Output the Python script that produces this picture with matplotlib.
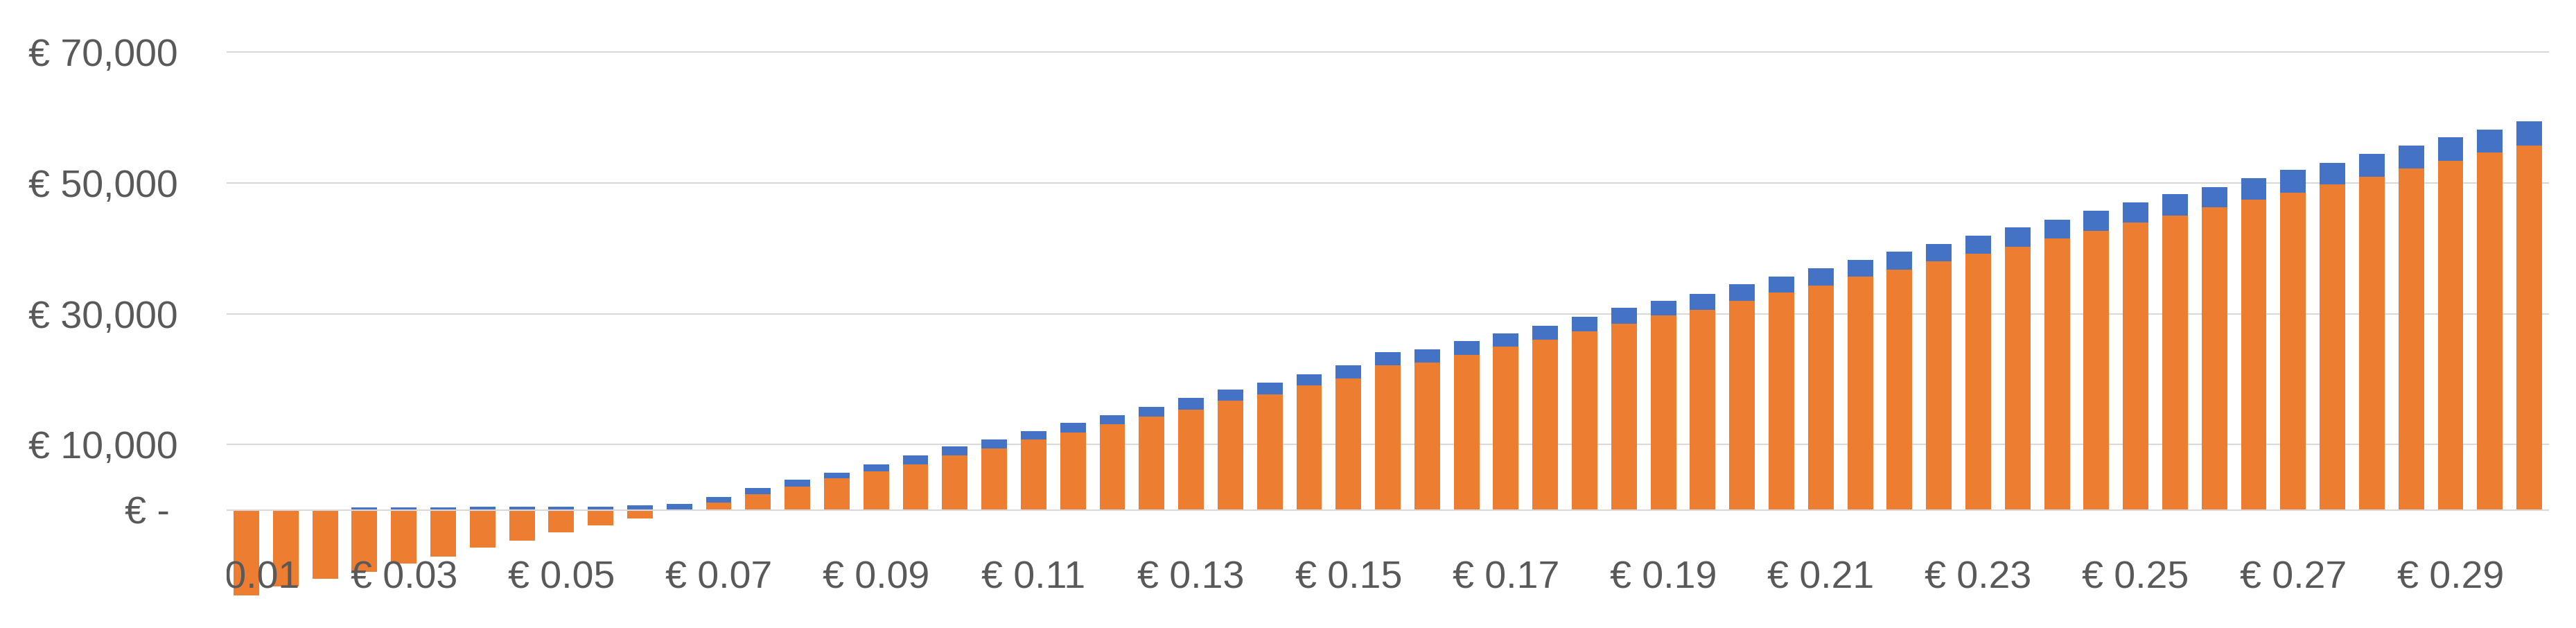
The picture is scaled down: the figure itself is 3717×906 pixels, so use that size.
import numpy as np
import matplotlib
matplotlib.use("Agg")
import matplotlib.pyplot as plt

# price per unit (categories on the x axis)
prices = [0.010, 0.015, 0.020, 0.025, 0.030, 0.035, 0.040, 0.045, 0.050, 0.055,
          0.060, 0.065, 0.070, 0.075, 0.080, 0.085, 0.090, 0.095, 0.100, 0.105,
          0.110, 0.115, 0.120, 0.125, 0.130, 0.135, 0.140, 0.145, 0.150, 0.155,
          0.160, 0.165, 0.170, 0.175, 0.180, 0.185, 0.190, 0.195, 0.200, 0.205,
          0.210, 0.215, 0.220, 0.225, 0.230, 0.235, 0.240, 0.245, 0.250, 0.255,
          0.260, 0.265, 0.270, 0.275, 0.280, 0.285, 0.290, 0.295, 0.300]

# orange series (can go negative)
orange_vals = [-13000, -11700, -10560, -9470, -8160, -7070, -5760, -4700, -3420, -2330,
               -1240, -40, 1170, 2440, 3570, 4900, 5908, 7010, 8357, 9459,
               10745, 11846, 13132, 14234, 15336, 16682, 17723, 19070, 20111, 22131,
               22559, 23661, 24947, 26049, 27334, 28436, 29722, 30640, 31926, 33212,
               34314, 35661, 36763, 38048, 39150, 40191, 41538, 42640, 43925, 45027,
               46313, 47476, 48517, 49803, 50966, 52191, 53354, 54640, 55742]

# blue series stacked on top
blue_vals = [0, 0, 0, 350, 350, 350, 560, 530, 530, 530,
             740, 950, 870, 920, 1090, 800, 1100, 1350, 1350, 1350,
             1350, 1530, 1350, 1530, 1775, 1715, 1775, 1715, 2020, 1960,
             1960, 2140, 2020, 2140, 2200, 2450, 2265, 2390, 2570, 2450,
             2630, 2570, 2755, 2630, 2815, 3060, 2815, 3060, 3060, 3245,
             3060, 3245, 3490, 3305, 3490, 3550, 3675, 3490, 3675]

y_ticks = [0, 10000, 30000, 50000, 70000]
y_labels = ["€ -\u2009", "€ 10,000", "€ 30,000", "€ 50,000", "€ 70,000"]

ORANGE = "#ED7D31"
BLUE = "#4472C4"
GRID = "#D9D9D9"
TEXT = "#595959"

plt.rcParams["font.family"] = ["Liberation Sans", "DejaVu Sans"]

W, H = 3717, 906
fig = plt.figure(figsize=(W / 100, H / 100), dpi=100)
ax = fig.add_axes([327.1 / W, 0, (3678 - 327.1) / W, 1])

x = np.arange(len(prices))
orange = np.array(orange_vals)
blue_bottom = np.maximum(orange, 0)

ax.bar(x, orange, width=0.65, color=ORANGE, zorder=1)
ax.bar(x, blue_vals, width=0.65, bottom=blue_bottom, color=BLUE, zorder=1)
ax.axhline(0, color=GRID, lw=1.5, zorder=3)

ax.set_xlim(-0.5, len(prices) - 0.5)
ax.set_ylim(-18032, 77954)

ax.set_yticks(y_ticks)
ax.set_yticklabels(y_labels)
ax.yaxis.grid(True, color=GRID, lw=1.5)
ax.set_axisbelow(True)

xt = x[::4]
ax.set_xticks(xt)
ax.set_xticklabels([f"€ {prices[i]:.2f}" for i in xt])
ax.xaxis.set_zorder(5)

ax.tick_params(axis="y", length=0, pad=51, labelsize=40, labelcolor=TEXT)
ax.tick_params(axis="x", length=0, pad=-70, labelsize=40, labelcolor=TEXT)

for s in ax.spines.values():
    s.set_visible(False)

# first label is cut off at the plot edge, as in the original
first = ax.xaxis.get_major_ticks()[0].label1
first.set_clip_on(True)
first.set_clip_box(ax.bbox)

fig.savefig("out.png", dpi=100, facecolor="white")
